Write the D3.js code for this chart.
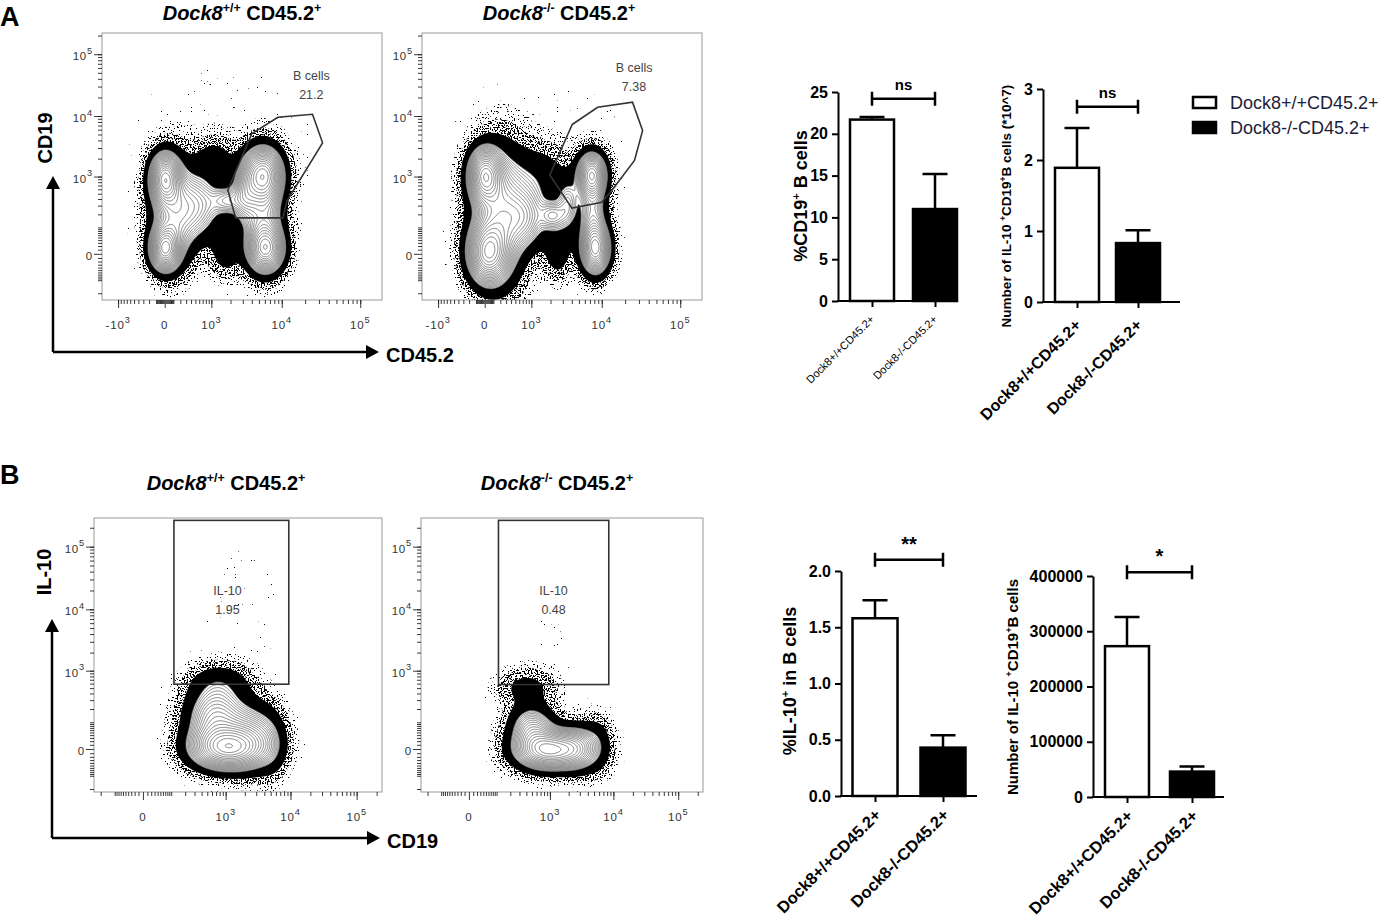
<!DOCTYPE html>
<html lang="en">
<head>
<meta charset="utf-8">
<title>Dock8 CD45.2 B cells and IL-10</title>
<script src="https://cdn.jsdelivr.net/npm/d3@7"></script>
<style>
  body { margin: 0; background: #fff; }
  text { font-family: "Liberation Sans", Arial, sans-serif; }
  .bar-axis path, .bar-axis line { stroke: #000; stroke-width: 2; }
  .bar-axis text { font-size: 16px; font-weight: bold; fill: #000; }
  .flow-ticks path { display: none; }
  .flow-ticks line { stroke: #222; stroke-width: 0.9; }
</style>
</head>
<body>
<script>
// ---------- bar chart data ----------
var groups = ["Dock8+/+CD45.2+", "Dock8-/-CD45.2+"];
var pctBcells = [21.7, 11.0], pctBcellsErr = [0.3, 4.2];
var il10Bnum7 = [1.89, 0.83], il10Bnum7Err = [0.56, 0.18];
var pctIl10 = [1.58, 0.43], pctIl10Err = [0.16, 0.11];
var il10Bnum = [273000, 46000], il10BnumErr = [53000, 9000];
var signif = ["ns", "ns", "**", "*"];
var bracketLevels = [24.2, 2.75, 2.1, 407000];

// ---------- flow data ----------
// populations: [x value, y value, spread x, spread y (symlog units), weight]
var popsA1 = [
  [0, 925, 0.26, 0.56, 1.0],
  [0, 12, 0.26, 0.49, 1.0],
  [117, 217, 0.41, 1.12, 0.5],
  [614, 300, 0.41, 0.75, 0.35],
  [1823, 373, 0.29, 0.34, 0.32],
  [3195, 463, 0.23, 0.67, 0.35],
  [5618, 1084, 0.35, 0.6, 1.0],
  [6160, 12, 0.32, 0.52, 0.9],
  [5793, 217, 0.35, 1.12, 0.45],
  [1138, 1868, 0.38, 0.52, 0.12],
  [1697, 7, 0.29, 0.6, 0.13],
  [1374, 2682, 2.0, 2.2, 0.008]
];
var popsA2 = [
  [0, 1042, 0.29, 0.6, 1.0],
  [32, 2, 0.35, 0.67, 1.0],
  [190, 188, 0.48, 1.42, 0.6],
  [764, 170, 0.41, 0.67, 0.4],
  [2156, 188, 0.23, 0.34, 0.32],
  [3517, 300, 0.2, 0.6, 0.3],
  [7396, 1084, 0.26, 0.49, 0.8],
  [8347, 12, 0.26, 0.56, 0.85],
  [7623, 217, 0.26, 1.04, 0.35],
  [1273, 925, 0.58, 0.75, 0.15],
  [2545, 12, 0.26, 0.67, 0.15],
  [1638, 2682, 2.0, 2.2, 0.006]
];
var popsB1 = [
  [1049, 2, 0.76, 0.48, 1.0],
  [691, 127, 0.63, 0.73, 0.5],
  [2582, 40, 0.56, 0.73, 0.35],
  [812, 633, 0.69, 0.44, 0.12],
  [5173, 9.5, 0.35, 0.73, 0.12],
  [2010, 9680, 0.97, 1.65, 0.008]
];
var popsB2 = [
  [941, -2, 0.71, 0.44, 1.0],
  [500, 74, 0.5, 0.51, 0.4],
  [2745, 2, 0.46, 0.51, 0.4],
  [402, 506, 0.64, 0.44, 0.11],
  [5700, 9.5, 0.35, 0.66, 0.12],
  [941, 3144, 0.64, 1.28, 0.004]
];
// gates [CD45.2, CD19] / [CD19, IL-10]
var gateA1 = [[4007, 5160], [8907, 9535], [24850, 10670], [33400, 3656], [11650, 365], [10370, 168], [2377, 168], [1823, 584]];
var gateA2 = [[4053, 7280], [8830, 13880], [24850, 16730], [33400, 5790], [26350, 1868], [13620, 584], [10040, 347], [4007, 268], [1952, 1067]];
var gateB1 = [[116, 586], [9420, 262144]];
var gateB2 = [[111, 578], [8480, 262144]];
var gateNames = ["B cells", "B cells", "IL-10", "IL-10"];
var gateFreq = ["21.2", "7.38", "1.95", "0.48"];
var gateLabelAt = [[24000, 38000], [26000, 51000], [1068, 16800], [1146, 16800]];
var majorXA = [-1000, 0, 1000, 10000, 100000];
var majorXB = [0, 1000, 10000, 100000];
var majorY = [0, 1000, 10000, 100000];
var genotypeSup = ["+/+", "-/-"];

var W = 1389, H = 924;
var svg = d3.select("body").append("svg").attr("width", W).attr("height", H);
var defs = svg.append("defs");

// speckle textures for the dot clouds
function speckle(id, cut) {
  var f = defs.append("filter").attr("id", id)
    .attr("filterUnits", "userSpaceOnUse")
    .attr("x", 0).attr("y", 0).attr("width", W).attr("height", H);
  f.append("feTurbulence").attr("type", "fractalNoise")
    .attr("baseFrequency", 0.7).attr("numOctaves", 1).attr("seed", 5).attr("result", "n");
  f.append("feColorMatrix").attr("in", "n").attr("type", "matrix")
    .attr("values", "0 0 0 0 0  0 0 0 0 0  0 0 0 0 0  1 0 0 0 0").attr("result", "a");
  f.append("feComponentTransfer").attr("in", "a").attr("result", "t")
    .append("feFuncA").attr("type", "linear").attr("slope", 60).attr("intercept", -60 * cut);
  f.append("feComposite").attr("in", "t").attr("in2", "SourceGraphic").attr("operator", "in");
}
speckle("spSparse", 0.74);
speckle("spMed", 0.64);
speckle("spDense", 0.52);

function addText(sel, parts, fs) {
  parts.forEach(function(pt, i) {
    var prevSup = i > 0 && parts[i - 1][1];
    var t = sel.append("tspan").text(pt[0]);
    if (pt[2]) t.attr("font-style", "italic");
    if (pt[1]) t.attr("font-size", fs * 0.62).attr("dy", -fs * 0.38);
    else if (prevSup) t.attr("dy", fs * 0.38);
  });
}

function symT(c) { return function(v) { return Math.sign(v) * Math.log1p(Math.abs(v) / c); }; }

function minorTicks(dom) {
  var out = [];
  for (var d = 1; d <= 5; d++) for (var m = 1; m <= 9; m++) {
    [1, -1].forEach(function(s) {
      var v = s * m * Math.pow(10, d);
      if (v > dom[0] && v < dom[1]) out.push(v);
    });
  }
  return out;
}

function tickLabel(sel, v, fs) {
  if (v === 0) { sel.text("0"); return; }
  var e = Math.round(Math.log10(Math.abs(v)));
  sel.append("tspan").text(v < 0 ? "-10" : "10");
  sel.append("tspan").attr("font-size", fs * 0.8).attr("dy", -fs * 0.55).text(e);
}

function drawFlow(p, idx) {
  var x = d3.scaleSymlog().constant(p.xc).domain(p.xd).range([p.x0, p.x0 + p.w]);
  var y = d3.scaleSymlog().constant(p.yc).domain(p.yd).range([p.y0 + p.h, p.y0]);
  var fx = symT(p.xc), fy = symT(p.yc);
  var bx = p.w / (fx(p.xd[1]) - fx(p.xd[0]));
  var by = p.h / (fy(p.yd[1]) - fy(p.yd[0]));
  var pops = p.pops.map(function(d) {
    return { cx: x(d[0]) - p.x0, cy: y(d[1]) - p.y0, sx: d[2] * bx, sy: d[3] * by, w: d[4] };
  });
  var nx = p.w, ny = p.h, grid = new Float64Array(nx * ny), max = 0;
  for (var j = 0; j < ny; j++) for (var i = 0; i < nx; i++) {
    var s = 0;
    for (var k = 0; k < pops.length; k++) {
      var q = pops[k], dx = (i + 0.5 - q.cx) / q.sx, dy = (j + 0.5 - q.cy) / q.sy;
      s += q.w * Math.exp(-0.5 * (dx * dx + dy * dy));
    }
    grid[j * nx + i] = s;
    if (s > max) max = s;
  }
  var gen = d3.contours().size([nx, ny]);
  var path = d3.geoPath(d3.geoIdentity().translate([p.x0, p.y0]));
  var clipId = "clip" + idx;
  defs.append("clipPath").attr("id", clipId).append("rect")
    .attr("x", p.x0).attr("y", p.y0).attr("width", p.w).attr("height", p.h);
  var g = svg.append("g").attr("clip-path", "url(#" + clipId + ")");

  [[0.003, "spSparse"], [0.011, "spMed"], [0.03, "spDense"]].forEach(function(l) {
    g.append("path").attr("d", path(gen.contour(grid, l[0])))
      .attr("fill", "#000").attr("filter", "url(#" + l[1] + ")");
  });
  g.append("path").attr("d", path(gen.contour(grid, 0.08))).attr("fill", "#000");
  var t1 = 0.22;
  g.append("path").attr("d", path(gen.contour(grid, t1))).attr("fill", "#fff");
  var lv = [];
  for (var t = t1; t < max; t *= 1.1) lv.push(t);
  g.selectAll(".ring").data(lv).enter().append("path")
    .attr("d", function(t) { return path(gen.contour(grid, t)); })
    .attr("fill", "none").attr("stroke", "#707070").attr("stroke-width", 0.9);

  // gate
  if (p.gateType === "poly") {
    svg.append("path")
      .attr("d", d3.line().x(function(d) { return x(d[0]); }).y(function(d) { return y(d[1]); })
        .curve(d3.curveLinearClosed)(p.gate))
      .attr("fill", "none").attr("stroke", "#333").attr("stroke-width", 1.6);
  } else {
    svg.append("rect")
      .attr("x", x(p.gate[0][0])).attr("y", y(p.gate[1][1]))
      .attr("width", x(p.gate[1][0]) - x(p.gate[0][0]))
      .attr("height", y(p.gate[0][1]) - y(p.gate[1][1]))
      .attr("fill", "none").attr("stroke", "#333").attr("stroke-width", 1.6);
  }
  svg.append("rect").attr("x", p.x0).attr("y", p.y0).attr("width", p.w).attr("height", p.h)
    .attr("fill", "none").attr("stroke", "#999").attr("stroke-width", 1);

  // gate labels
  var la = gateLabelAt[idx];
  svg.append("text").attr("x", x(la[0])).attr("y", y(la[1])).attr("text-anchor", "middle")
    .attr("font-size", 12.5).attr("fill", "#444").text(gateNames[idx]);
  svg.append("text").attr("x", x(la[0])).attr("y", y(la[1]) + 19).attr("text-anchor", "middle")
    .attr("font-size", 12.5).attr("fill", "#444").text(gateFreq[idx]);

  // axes ticks
  var ax = svg.append("g").attr("class", "flow-ticks").attr("transform", "translate(0," + (p.y0 + p.h) + ")");
  ax.append("g").call(d3.axisBottom(x).tickValues(minorTicks(p.xd)).tickSize(4).tickFormat(""));
  ax.append("g").call(d3.axisBottom(x).tickValues(p.xMajor).tickSize(8).tickFormat(""));
  var ay = svg.append("g").attr("class", "flow-ticks").attr("transform", "translate(" + p.x0 + ",0)");
  ay.append("g").call(d3.axisLeft(y).tickValues(minorTicks(p.yd)).tickSize(4).tickFormat(""));
  ay.append("g").call(d3.axisLeft(y).tickValues(majorY).tickSize(8).tickFormat(""));

  p.xMajor.forEach(function(v) {
    var t = svg.append("text").attr("x", x(v)).attr("y", p.y0 + p.h + 29)
      .attr("text-anchor", "middle").attr("font-size", 11.5).attr("fill", "#333")
      .attr("letter-spacing", 0.8);
    tickLabel(t, v, 11.5);
  });
  majorY.forEach(function(v) {
    var t = svg.append("text").attr("x", p.x0 - 9).attr("y", y(v) + 6)
      .attr("text-anchor", "end").attr("font-size", 11.5).attr("fill", "#333")
      .attr("letter-spacing", 0.8);
    tickLabel(t, v, 11.5);
  });

  // title
  var tt = svg.append("text").attr("x", p.titleX).attr("y", p.titleY)
    .attr("text-anchor", "middle").attr("font-size", 20).attr("font-weight", "bold");
  addText(tt, [["Dock8", false, true], [genotypeSup[idx % 2], true], [" CD45.2", false], ["+", true]], 20);
}

var flowPanels = [
  { x0: 102, y0: 33, w: 280, h: 267, xc: 350, xd: [-1800, 188000], yc: 60, yd: [-274, 220000],
    xMajor: majorXA, pops: popsA1, gate: gateA1, gateType: "poly", titleX: 242, titleY: 20 },
  { x0: 422, y0: 33, w: 280, h: 267, xc: 350, xd: [-1800, 188000], yc: 60, yd: [-274, 220000],
    xMajor: majorXA, pops: popsA2, gate: gateA2, gateType: "poly", titleX: 559, titleY: 20 },
  { x0: 94, y0: 518, w: 288, h: 274, xc: 60, xd: [-268, 241000], yc: 60, yd: [-230, 286000],
    xMajor: majorXB, pops: popsB1, gate: gateB1, gateType: "rect", titleX: 226, titleY: 490 },
  { x0: 421, y0: 518, w: 282, h: 274, xc: 60, xd: [-268, 241000], yc: 60, yd: [-230, 286000],
    xMajor: majorXB, pops: popsB2, gate: gateB2, gateType: "rect", titleX: 557, titleY: 490 }
];
flowPanels.forEach(drawFlow);

// panel letters
svg.append("text").attr("x", 0).attr("y", 26).attr("font-size", 27).attr("font-weight", "bold").text("A");
svg.append("text").attr("x", 0).attr("y", 484).attr("font-size", 27).attr("font-weight", "bold").text("B");

// axis arrows for the flow rows
function arrowAxes(ox, oy, topY, rightX, yLab, xLab, yLabY) {
  var g = svg.append("g");
  g.append("line").attr("x1", ox).attr("y1", oy).attr("x2", ox).attr("y2", topY + 10)
    .attr("stroke", "#000").attr("stroke-width", 2.5);
  g.append("line").attr("x1", ox).attr("y1", oy).attr("x2", rightX - 10).attr("y2", oy)
    .attr("stroke", "#000").attr("stroke-width", 2.5);
  g.append("path").attr("d", "M" + ox + "," + topY + "l-7,13h14z").attr("fill", "#000");
  g.append("path").attr("d", "M" + rightX + "," + oy + "l-13,-7v14z").attr("fill", "#000");
  g.append("text").attr("transform", "translate(" + (ox - 1) + "," + yLabY + ") rotate(-90)")
    .attr("text-anchor", "middle").attr("font-size", 20).attr("font-weight", "bold").text(yLab);
  g.append("text").attr("x", rightX + 7).attr("y", oy + 10)
    .attr("font-size", 20).attr("font-weight", "bold").text(xLab);
}
arrowAxes(53, 352, 176, 379, "CD19", "CD45.2", 138);
arrowAxes(52, 838, 619, 380, "IL-10", "CD19", 572);

// ---------- bar charts ----------
var barCharts = [
  { vals: pctBcells, err: pctBcellsErr, max: 25, ticks: d3.range(0, 26, 5), fmt: d3.format("d"),
    ax: 838, yb: 301, yt: 92, c: [872, 935], bw: 44, end: 958,
    ylab: [["%CD19", false], ["+", true], [" B cells", false]], ylx: 807, yly: 196, yfs: 18,
    xfs: 11, xbold: false, xoff: [3, 19] },
  { vals: il10Bnum7, err: il10Bnum7Err, max: 3, ticks: [0, 1, 2, 3], fmt: d3.format("d"),
    ax: 1043, yb: 302, yt: 89, c: [1077, 1138], bw: 44, end: 1180,
    ylab: [["Number of IL-10 ", false], ["+", true], ["CD19", false], ["+", true], ["B cells (*10^7)", false]],
    ylx: 1011, yly: 206, yfs: 13.5, xfs: 16, xbold: true, xoff: [5, 24] },
  { vals: pctIl10, err: pctIl10Err, max: 2, ticks: d3.range(0, 2.01, 0.5), fmt: d3.format(".1f"),
    ax: 841, yb: 796, yt: 571, c: [875, 943], bw: 45, end: 977,
    ylab: [["%IL-10", false], ["+", true], [" in B cells", false]], ylx: 796, yly: 681, yfs: 18,
    xfs: 16.5, xbold: true, xoff: [7, 20] },
  { vals: il10Bnum, err: il10BnumErr, max: 400000, ticks: d3.range(0, 400001, 100000), fmt: d3.format("d"),
    ax: 1093, yb: 797, yt: 576, c: [1127, 1192], bw: 44, end: 1224,
    ylab: [["Number of IL-10 ", false], ["+", true], ["CD19", false], ["+", true], ["B cells", false]],
    ylx: 1018, yly: 687, yfs: 15, xfs: 16.5, xbold: true, xoff: [7, 20] }
];

barCharts.forEach(function(cfg, ci) {
  var y = d3.scaleLinear().domain([0, cfg.max]).range([cfg.yb, cfg.yt]);
  var x = d3.scalePoint().domain(groups).range(cfg.c);
  var g = svg.append("g");

  g.append("g").attr("class", "bar-axis").attr("transform", "translate(" + cfg.ax + ",0)")
    .call(d3.axisLeft(y).tickValues(cfg.ticks).tickFormat(cfg.fmt).tickSize(6).tickSizeOuter(0).tickPadding(4));
  g.append("line").attr("x1", cfg.ax - 1).attr("x2", cfg.end).attr("y1", y(0)).attr("y2", y(0))
    .attr("stroke", "#000").attr("stroke-width", 2);
  var xa = g.append("g").attr("class", "bar-axis").attr("transform", "translate(0," + y(0) + ")")
    .call(d3.axisBottom(x).tickSize(6).tickFormat(""));
  xa.select(".domain").remove();

  // error bars (upper only)
  g.selectAll(".eb").data(groups).enter().append("path")
    .attr("d", function(d, i) {
      var cx = x(d), top = y(cfg.vals[i] + cfg.err[i]);
      return "M" + cx + "," + y(cfg.vals[i]) + "V" + top + "M" + (cx - 12.5) + "," + top + "H" + (cx + 12.5);
    })
    .attr("stroke", "#000").attr("stroke-width", 2.5).attr("fill", "none");
  g.selectAll(".bar").data(groups).enter().append("rect")
    .attr("x", function(d) { return x(d) - cfg.bw / 2; })
    .attr("y", function(d, i) { return y(cfg.vals[i]); })
    .attr("width", cfg.bw)
    .attr("height", function(d, i) { return y(0) - y(cfg.vals[i]); })
    .attr("fill", function(d, i) { return i === 0 ? "#fff" : "#000"; })
    .attr("stroke", "#000").attr("stroke-width", 2.5);

  // significance bracket
  var by = y(bracketLevels[ci]);
  g.append("path")
    .attr("d", "M" + x(groups[0]) + "," + by + "H" + x(groups[1]) +
      "M" + x(groups[0]) + "," + (by - 7) + "V" + (by + 7) +
      "M" + x(groups[1]) + "," + (by - 7) + "V" + (by + 7))
    .attr("stroke", "#000").attr("stroke-width", 2.5).attr("fill", "none");
  g.append("text").attr("x", (x(groups[0]) + x(groups[1])) / 2).attr("y", by - 9)
    .attr("text-anchor", "middle").attr("font-size", signif[ci] === "ns" ? 15 : 20)
    .attr("font-weight", "bold").text(signif[ci]);

  // y label
  var yl = g.append("text").attr("transform", "translate(" + cfg.ylx + "," + cfg.yly + ") rotate(-90)")
    .attr("text-anchor", "middle").attr("font-size", cfg.yfs).attr("font-weight", "bold");
  addText(yl, cfg.ylab, cfg.yfs);

  // x labels
  g.selectAll(".xl").data(groups).enter().append("text")
    .attr("transform", function(d) {
      return "translate(" + (x(d) + cfg.xoff[0]) + "," + (y(0) + cfg.xoff[1]) + ") rotate(-45)";
    })
    .attr("text-anchor", "end").attr("font-size", cfg.xfs)
    .attr("font-weight", cfg.xbold ? "bold" : "normal").text(function(d) { return d; });
});

// legend
var lg = svg.append("g").attr("transform", "translate(1193,97)");
lg.selectAll("rect").data(groups).enter().append("rect")
  .attr("x", 0).attr("y", function(d, i) { return i * 25; })
  .attr("width", 23).attr("height", 11)
  .attr("fill", function(d, i) { return i === 0 ? "#fff" : "#000"; })
  .attr("stroke", "#000").attr("stroke-width", 2.5);
lg.selectAll("text").data(groups).enter().append("text")
  .attr("x", 37).attr("y", function(d, i) { return i * 25 + 12; })
  .attr("font-size", 18).attr("fill", "#1d1d3a").text(function(d) { return d; });
</script>
</body>
</html>
